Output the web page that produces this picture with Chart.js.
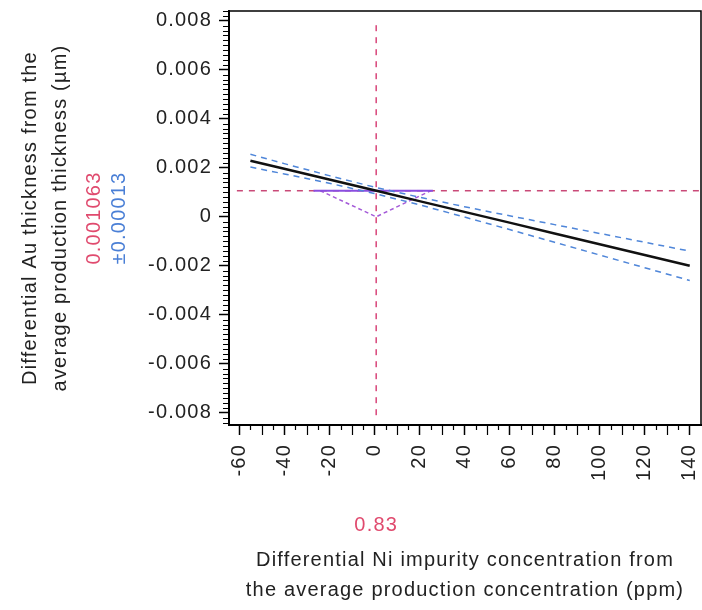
<!DOCTYPE html>
<html>
<head>
<meta charset="utf-8">
<script src="https://cdn.jsdelivr.net/npm/chart.js@4.4.1/dist/chart.umd.min.js"></script>
<style>
  html, body { margin: 0; padding: 0; background: #fff; }
  #wrap { width: 702px; height: 610px; position: relative; }
</style>
</head>
<body>
<div id="wrap"><canvas id="profiler"></canvas></div>
<script>
// current factor setting and predicted response
const xSetting = 0.83;
const yPredicted = 0.001063;
const yHalfWidth = 0.00013;

// prediction trace
const niPpm   = [-55, -40, -20, 0, 20, 40, 60, 80, 100, 120, 140];
const auPred  = [0.00229, 0.00196, 0.00152, 0.00108, 0.00064, 0.00020, -0.00024, -0.00068, -0.00112, -0.00156, -0.00200];
const auUpper = [0.00255, 0.00217, 0.00168, 0.00121, 0.00080, 0.00041, 0.00004, -0.00032, -0.00068, -0.00104, -0.00140];
const auLower = [0.00203, 0.00175, 0.00137, 0.00095, 0.00049, -0.00001, -0.00052, -0.00104, -0.00156, -0.00208, -0.00260];

// purple marker
const markX = [-24, 0.83, 25];
const markY = [0.001063, 0, 0.001063];
const markBarX = [-27, 26];

// crosshair extents
const hLineX = [-61, 145];
const vLineY = [-0.0081, 0.0079];

// axes
const xTicks = [-60, -40, -20, 0, 20, 40, 60, 80, 100, 120, 140];
const yTicks = [-0.008, -0.006, -0.004, -0.002, 0, 0.002, 0.004, 0.006, 0.008];
const xRange = [-64.5, 145];
const yRange = [-0.0085, 0.0084];

const FONT = '"Liberation Sans", Arial, sans-serif';
const SPACING = '1.2px';

const pts = (xs, ys) => xs.map((x, i) => ({ x: x, y: ys[i] }));

const extras = {
  id: 'extras',
  beforeUpdate(chart) { chart.ctx.letterSpacing = SPACING; },
  beforeDraw(chart) { chart.ctx.letterSpacing = SPACING; },
  afterDraw(chart) {
    const ctx = chart.ctx, a = chart.chartArea;
    const xs = chart.scales.x, ys = chart.scales.y;
    ctx.save();
    ctx.strokeStyle = '#000';
    ctx.lineWidth = 1.5;
    ctx.beginPath();
    ctx.moveTo(a.left, a.top);
    ctx.lineTo(a.right, a.top);
    ctx.lineTo(a.right, a.bottom);
    ctx.stroke();

    // minor ticks
    ctx.lineWidth = 1.2;
    ctx.beginPath();
    for (let v = -60; v <= 140; v += 5) {
      if (v % 20 === 0) continue;
      const px = Math.round(xs.getPixelForValue(v)) + 0.5;
      const len = v % 10 === 0 ? 10 : 5;
      ctx.moveTo(px, a.bottom);
      ctx.lineTo(px, a.bottom + len);
    }
    for (let k = -42; k <= 42; k++) {
      if (k % 10 === 0) continue;
      const py = Math.round(ys.getPixelForValue(k * 0.0002)) + 0.5;
      if (py < a.top || py > a.bottom) continue;
      ctx.moveTo(a.left, py);
      ctx.lineTo(a.left - 6, py);
    }
    ctx.stroke();

    // current values
    ctx.font = '20px ' + FONT;
    ctx.textAlign = 'center';
    ctx.textBaseline = 'middle';
    ctx.fillStyle = '#e04a6e';
    ctx.fillText(String(xSetting), xs.getPixelForValue(xSetting), 525);
    ctx.translate(94, (a.top + a.bottom) / 2);
    ctx.rotate(-Math.PI / 2);
    ctx.fillText(String(yPredicted), 0, 0);
    ctx.fillStyle = '#4a7fd6';
    ctx.fillText('\u00b1' + yHalfWidth, 0, 25);
    ctx.restore();
  }
};

const lineStyle = { pointRadius: 0, fill: false, tension: 0 };

new Chart(document.getElementById('profiler'), {
  type: 'line',
  data: {
    datasets: [
      { ...lineStyle, data: pts(niPpm, auPred), borderColor: '#111', borderWidth: 2.5 },
      { ...lineStyle, data: pts(niPpm, auUpper), borderColor: '#4f86d9', borderWidth: 1.5, borderDash: [6, 5] },
      { ...lineStyle, data: pts(niPpm, auLower), borderColor: '#4f86d9', borderWidth: 1.5, borderDash: [6, 5] },
      { ...lineStyle, data: pts(markBarX, [yPredicted, yPredicted]), borderColor: '#8a4ee0', borderWidth: 2 },
      { ...lineStyle, data: pts(markX, markY), borderColor: '#a45ad8', borderWidth: 1.5, borderDash: [4, 3] },
      { ...lineStyle, data: pts(hLineX, [yPredicted, yPredicted]), borderColor: '#c94a78', borderWidth: 1.5, borderDash: [6, 6] },
      { ...lineStyle, data: pts([xSetting, xSetting], vLineY), borderColor: '#d8467a', borderWidth: 1.5, borderDash: [6, 6] }
    ]
  },
  options: {
    responsive: true,
    maintainAspectRatio: false,
    devicePixelRatio: 1,
    animation: false,
    layout: { padding: { top: 11, right: 1, left: 0, bottom: 0 } },
    plugins: { legend: { display: false }, tooltip: { enabled: false } },
    scales: {
      x: {
        type: 'linear',
        min: xRange[0],
        max: xRange[1],
        afterBuildTicks: s => { s.ticks = xTicks.map(v => ({ value: v })); },
        afterFit: s => { s.height = 185; s.paddingLeft = 0; s.paddingRight = 0; },
        border: { display: true, color: '#000', width: 2 },
        grid: { drawOnChartArea: false, drawTicks: true, tickLength: 10, tickColor: '#000', tickWidth: 1.5 },
        ticks: {
          autoSkip: false, minRotation: 90, maxRotation: 90, padding: 9,
          color: '#222', font: { family: FONT, size: 20 },
          callback: v => String(v)
        },
        title: {
          display: true,
          text: ['Differential Ni impurity concentration from', 'the average production concentration (ppm)'],
          color: '#222', font: { family: FONT, size: 20, lineHeight: 1.5 },
          padding: { top: 0, bottom: 5 }
        }
      },
      y: {
        type: 'linear',
        min: yRange[0],
        max: yRange[1],
        afterBuildTicks: s => { s.ticks = yTicks.map(v => ({ value: v })); },
        afterFit: s => { s.width = 229; s.paddingTop = 0; s.paddingBottom = 0; },
        border: { display: true, color: '#000', width: 2 },
        grid: { drawOnChartArea: false, drawTicks: true, tickLength: 10, tickColor: '#000', tickWidth: 1.5 },
        ticks: {
          padding: 7, color: '#222', font: { family: FONT, size: 20 },
          callback: v => String(v)
        },
        title: {
          display: true,
          text: ['Differential Au thickness from the', 'average production thickness (\u00b5m)'],
          color: '#222', font: { family: FONT, size: 20, lineHeight: 1.5 },
          padding: { top: 15, bottom: 0 }
        }
      }
    }
  },
  plugins: [extras]
});
</script>
</body>
</html>
